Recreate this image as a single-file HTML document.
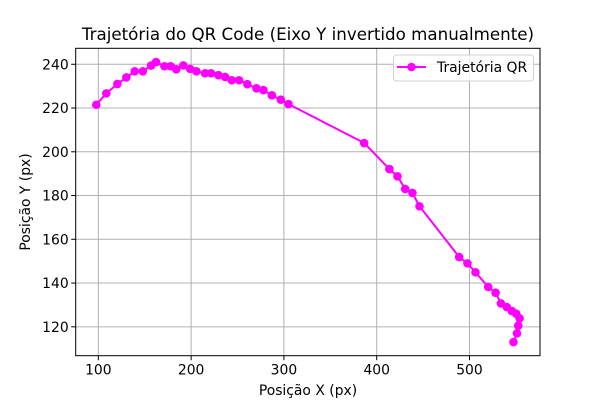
<!DOCTYPE html>
<html><head><meta charset="utf-8">
<style>
html,body{margin:0;padding:0;background:#fff;}
svg{display:block;font-family:"DejaVu Sans","Liberation Sans",sans-serif;}
</style></head>
<body>
<svg id="chart" width="600" height="400" viewBox="0 0 600 400" xmlns="http://www.w3.org/2000/svg">
<rect width="600" height="400" fill="#fff"/>
<g id="grid"></g>
<g id="axes"></g>
<g id="series"></g>
<text x="308" y="40" text-anchor="middle" font-size="16.7" fill="#000">Trajetória do QR Code (Eixo Y invertido manualmente)</text>
<text x="308" y="395" text-anchor="middle" font-size="13.9" fill="#000">Posição X (px)</text>
<text x="0" y="0" transform="translate(30,202) rotate(-90)" text-anchor="middle" font-size="13.9" fill="#000">Posição Y (px)</text>
<g>
<rect x="393.5" y="55" width="140" height="26" rx="3" fill="#fff" fill-opacity="0.8" stroke="#d0d0d0"/>
<line x1="397" y1="67" x2="426" y2="67" stroke="#ff00ff" stroke-width="2"/>
<circle cx="411.5" cy="67" r="4.3" fill="#ff00ff"/>
<text x="437" y="72" font-size="13.9" fill="#000">Trajetória QR</text>
</g>
</svg>
<script>
const xValues = [97.8,108.6,120.5,130.2,139.2,147.9,156.8,162.2,171.2,178,184,191.6,198.9,205.7,215,221.5,229.4,236.6,243.8,251.7,260.6,270.4,277.9,287,296.7,304.9,386.5,413.7,422.4,430.7,438.5,446.1,488.9,497.8,506.5,520.2,528.1,533.9,540.3,545.7,550.4,554,552.6,551.2,547.4];
const yValues = [221.5,226.7,231,234,236.8,236.8,239.4,241,239.1,239.1,237.7,239.5,237.9,236.8,235.9,235.9,235,234.2,232.7,232.7,230.9,229,228.2,225.8,223.8,221.8,204,192.1,188.8,183,181.2,175.1,151.9,149,144.9,138.2,135.6,130.7,129,127.2,126,123.9,120.5,117,113];
const xTicks = [100,200,300,400,500];
const yTicks = [120,140,160,180,200,220,240];

const L=75.7,R=540,T=48.3,B=355.7;
const xMin=75.6,xMax=576,yMin=106.8,yMax=247.3;
const sx=v=>L+(v-xMin)/(xMax-xMin)*(R-L);
const sy=v=>B-(v-yMin)/(yMax-yMin)*(B-T);
const NS="http://www.w3.org/2000/svg";
function mk(tag,attrs,parent){const e=document.createElementNS(NS,tag);for(const k in attrs)e.setAttribute(k,attrs[k]);parent.appendChild(e);return e;}
const grid=document.getElementById('grid'),axes=document.getElementById('axes'),series=document.getElementById('series');
xTicks.forEach(t=>{
  const x=sx(t);
  const g=mk('line',{x1:x,x2:x,y1:T,y2:B,stroke:'#b0b0b0','stroke-width':1},grid);
  
  
  mk('line',{x1:x,x2:x,y1:B,y2:B+4.5,stroke:'#000','stroke-width':1},axes);
  const tx=mk('text',{x:x,y:B+19,'text-anchor':'middle','font-size':'13.9',fill:'#000'},axes);
  tx.textContent=t;
  
  
});
yTicks.forEach(t=>{
  const y=sy(t);
  const g=mk('line',{x1:L,x2:R,y1:y,y2:y,stroke:'#b0b0b0','stroke-width':1},grid);
  
  
  mk('line',{x1:L-4.5,x2:L,y1:y,y2:y,stroke:'#000','stroke-width':1},axes);
  const tx=mk('text',{x:L-7,y:y+5,'text-anchor':'end','font-size':'13.9',fill:'#000'},axes);
  tx.textContent=t;
  
  
});
const frame=mk('rect',{x:L,y:T,width:R-L,height:B-T,fill:'none',stroke:'#000','stroke-width':1},axes);


const pts=xValues.map((v,i)=>sx(v).toFixed(1)+','+sy(yValues[i]).toFixed(1)).join(' ');
const line=mk('polyline',{points:pts,fill:'none',stroke:'#ff00ff','stroke-width':2,'stroke-linejoin':'round'},series);


xValues.forEach((v,i)=>{
  const c=mk('circle',{cx:sx(v),cy:sy(yValues[i]),r:4.3,fill:'#ff00ff'},series);
  
  
});
</script>
</body></html>
